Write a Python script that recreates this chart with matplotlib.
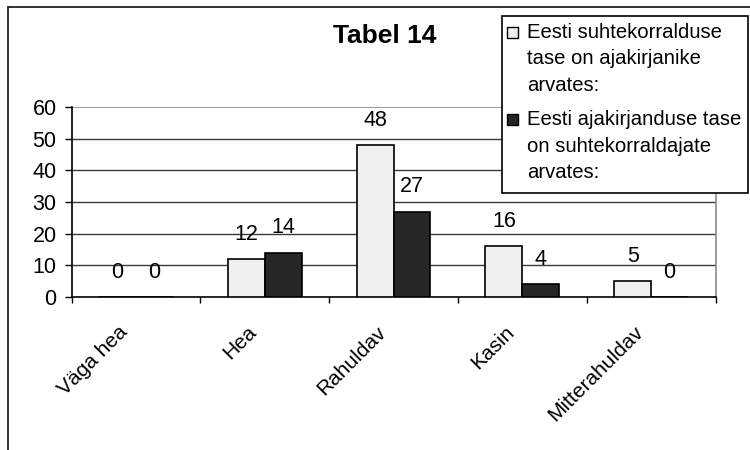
import matplotlib
matplotlib.use("Agg")
import matplotlib.pyplot as plt
import matplotlib.transforms as mtransforms
from matplotlib.patches import Rectangle
import numpy as np

# --- data -------------------------------------------------------------
categories = ["Väga hea", "Hea", "Rahuldav", "Kasin", "Mitterahuldav"]
pr_by_journalists = [0, 12, 48, 16, 5]      # Eesti suhtekorralduse tase ajakirjanike arvates
press_by_pr = [0, 14, 27, 4, 0]             # Eesti ajakirjanduse tase suhtekorraldajate arvates
series_labels = [
    ["Eesti suhtekorralduse", "tase on ajakirjanike", "arvates:"],
    ["Eesti ajakirjanduse tase", "on suhtekorraldajate", "arvates:"],
]
chart_title = "Tabel 14"
y_ticks = [0, 10, 20, 30, 40, 50, 60]

# --- style ------------------------------------------------------------
FONT = "Liberation Sans"
plt.rcParams["font.family"] = [FONT, "DejaVu Sans"]
LIGHT = "#efefef"
DARK = "#262626"
FS = 15.5
FS_X = 15
FS_LEG = 14.6

W, H, DPI = 750, 450, 100
fig = plt.figure(figsize=(W / DPI, H / DPI), dpi=DPI)
fig.patch.set_facecolor("white")

# plot area in pixel units (left, top, right, bottom)
pl, pt, pr, pb = 71.5, 107, 715.5, 297
ax = fig.add_axes([pl / W, 1 - pb / H, (pr - pl) / W, (pb - pt) / H])

x = np.arange(len(categories))
bw = 0.287
ax.bar(x - bw / 2, pr_by_journalists, bw, color=LIGHT, edgecolor="black",
       linewidth=1.2, zorder=3)
ax.bar(x + bw / 2, press_by_pr, bw, color=DARK, edgecolor="black",
       linewidth=1.2, zorder=3)

for xs, vals in ((x - bw / 2, pr_by_journalists), (x + bw / 2, press_by_pr)):
    for xi, v in zip(xs, vals):
        ax.annotate(f"{v}", (xi, v), xytext=(0, 18), textcoords="offset points",
                    ha="center", va="center", fontsize=FS, color="black",
                    zorder=4)

ax.set_xlim(-0.5, len(categories) - 0.5)
ax.set_ylim(0, 60)
ax.set_yticks(y_ticks)
ax.set_yticklabels([str(t) for t in y_ticks], fontsize=FS)
ax.tick_params(axis="y", direction="out", length=4.7, width=1.0, pad=6,
               color="black")

# category labels, rotated, ending at the category centre
ax.set_xticks(x)
ax.set_xticklabels(categories, fontsize=FS_X, rotation=45, ha="right",
                   va="baseline", rotation_mode="anchor")
ax.tick_params(axis="x", which="major", length=0, pad=26)
ax.set_xticks(np.arange(len(categories) + 1) - 0.5, minor=True)
ax.tick_params(axis="x", which="minor", direction="out", length=4.3,
               width=1.0, color="black")
shift = mtransforms.ScaledTranslation(-7 / DPI, 0, fig.dpi_scale_trans)
for lbl in ax.get_xticklabels():
    lbl.set_transform(lbl.get_transform() + shift)

for yv in y_ticks[1:-1]:
    ax.axhline(yv, color="#3a3a3a", linewidth=1.0, zorder=1)
ax.axhline(60, color="#8a8a8a", linewidth=1.2, zorder=1)

ax.spines["left"].set_color("black")
ax.spines["bottom"].set_color("black")
ax.spines["left"].set_linewidth(1.2)
ax.spines["bottom"].set_linewidth(1.2)
ax.spines["top"].set_visible(False)
ax.spines["right"].set_color("#8a8a8a")
ax.spines["right"].set_linewidth(1.2)

# --- overlay in pixel coordinates: frame, title, legend -----------------
ov = fig.add_axes([0, 0, 1, 1], zorder=5)
ov.set_xlim(0, W)
ov.set_ylim(H, 0)
ov.axis("off")
ov.patch.set_alpha(0)

ov.plot([8, 8, W], [H, 6.5, 6.5], color="#222222", linewidth=1.3,
        solid_joinstyle="miter")

ov.text(384.5, 36, chart_title, fontsize=19, fontweight="bold",
        ha="center", va="center", color="black")

ov.add_patch(Rectangle((501.5, 15.5), 246.5, 177.5, facecolor="white",
                       edgecolor="black", linewidth=1.2))
entry_tops = [38, 125]
line_step = 26.5
for lines, base, col in zip(series_labels, entry_tops, (LIGHT, DARK)):
    ov.add_patch(Rectangle((507, base - 11), 11, 11, facecolor=col,
                           edgecolor="black", linewidth=1.0))
    for i, line in enumerate(lines):
        ov.text(527, base + i * line_step, line, fontsize=FS_LEG, ha="left",
                va="baseline", color="black")

fig.savefig("out.png", dpi=DPI)
